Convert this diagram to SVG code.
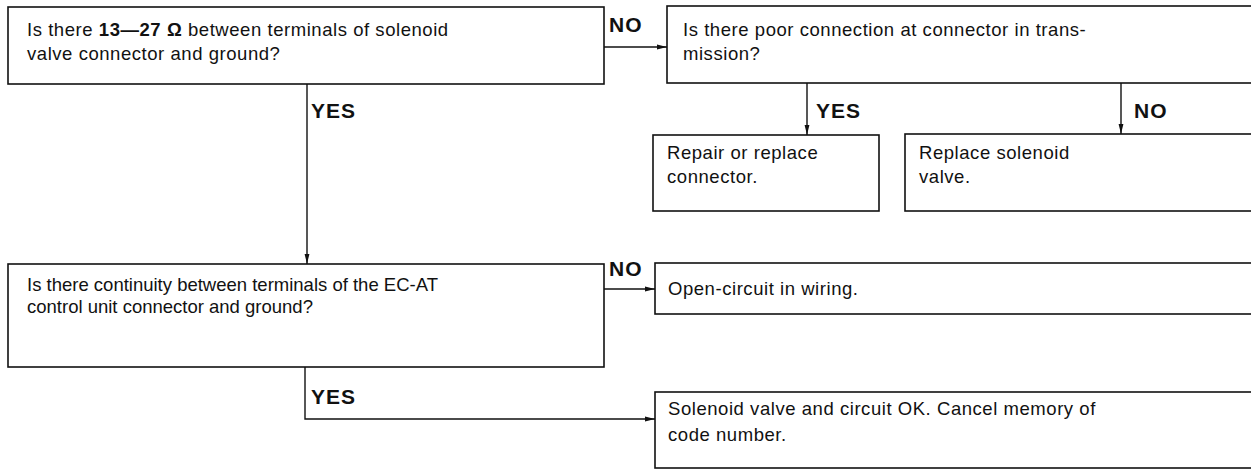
<svg xmlns="http://www.w3.org/2000/svg" width="1251" height="470" viewBox="0 0 1251 470">
<defs>
<marker id="arr" viewBox="0 0 10 6" refX="10" refY="3" markerWidth="10" markerHeight="6" markerUnits="userSpaceOnUse" orient="auto">
<path d="M0,0.6 L10,3 L0,5.4 Z" fill="#111"/>
</marker>
<style>
.box{fill:#fff;stroke:#111;stroke-width:1.6}
.t{font-family:"Liberation Sans",Arial,sans-serif;font-size:18.5px;letter-spacing:0.55px;fill:#111}
.n{letter-spacing:0}
.b{font-family:"Liberation Sans",Arial,sans-serif;font-size:21px;font-weight:bold;letter-spacing:1px;fill:#111}
.c{fill:none;stroke:#111;stroke-width:1.4}
</style>
</defs>
<rect width="1251" height="470" fill="#fff"/>
<g id="connectors">
<line class="c" x1="604" y1="47" x2="667" y2="47" marker-end="url(#arr)"/>
<text class="b" x="609" y="32">NO</text>
<line class="c" x1="307" y1="84" x2="307" y2="264" marker-end="url(#arr)"/>
<text class="b" x="311" y="118">YES</text>
<line class="c" x1="807" y1="83" x2="807" y2="135" marker-end="url(#arr)"/>
<text class="b" x="816" y="118">YES</text>
<line class="c" x1="1121" y1="83" x2="1121" y2="134" marker-end="url(#arr)"/>
<text class="b" x="1134" y="118">NO</text>
<line class="c" x1="604" y1="289" x2="655" y2="289" marker-end="url(#arr)"/>
<text class="b" x="609" y="276">NO</text>
<polyline class="c" points="305,367 305,419 655,419" marker-end="url(#arr)"/>
<text class="b" x="311" y="404">YES</text>
</g>
<g id="q1">
<rect class="box" x="8" y="7" width="596" height="77"/>
<text class="t" x="27" y="36">Is there <tspan font-weight="bold">13—27 Ω</tspan> between terminals of solenoid</text>
<text class="t" x="27" y="60">valve connector and ground?</text>
</g>
<g id="q2">
<rect class="box" x="667" y="6" width="620" height="77"/>
<text class="t" x="683" y="36">Is there poor connection at connector in trans-</text>
<text class="t" x="683" y="60">mission?</text>
</g>
<g id="repair">
<rect class="box" x="653" y="135" width="226" height="76"/>
<text class="t" x="667" y="159">Repair or replace</text>
<text class="t" x="667" y="183">connector.</text>
</g>
<g id="replace">
<rect class="box" x="905" y="134" width="400" height="77"/>
<text class="t" x="919" y="159">Replace solenoid</text>
<text class="t" x="919" y="183">valve.</text>
</g>
<g id="q3">
<rect class="box" x="8" y="264" width="596" height="103"/>
<text class="t n" x="27" y="291">Is there continuity between terminals of the EC-AT</text>
<text class="t n" x="27" y="313">control unit connector and ground?</text>
</g>
<g id="open">
<rect class="box" x="655" y="263" width="630" height="51"/>
<text class="t" x="668" y="295">Open-circuit in wiring.</text>
</g>
<g id="ok">
<rect class="box" x="655" y="392" width="630" height="76"/>
<text class="t" x="668" y="415">Solenoid valve and circuit OK. Cancel memory of</text>
<text class="t" x="668" y="441">code number.</text>
</g>
</svg>
